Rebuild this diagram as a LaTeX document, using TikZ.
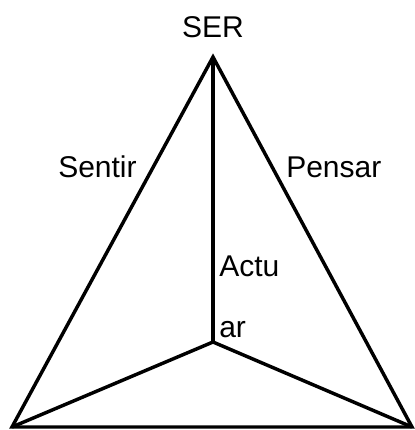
\documentclass[tikz,border=0pt]{standalone}
\usepackage{fontspec}
\setmainfont{Liberation Sans}
\usetikzlibrary{positioning}

\begin{document}
\begin{tikzpicture}[
    x=0.75pt, y=-0.75pt,
    edge/.style={draw=black, line width=2.6pt, line join=miter},
    word/.style={inner sep=0pt, font=\fontsize{22.5}{45.75}\selectfont, text=black}
]
\useasboundingbox (0,0) rectangle (415,430);

% Corners of the pyramid
\coordinate (ser) at (213,57);
\coordinate (left) at (12,427);
\coordinate (right) at (412,427);
\coordinate (centre) at (213,342);

% Edges
\draw[edge] (left) -- (ser) -- (right) -- cycle;
\draw[edge] (ser) -- (centre);
\draw[edge] (left) -- (centre) -- (right);

% Labels
\node[word, anchor=base] (lser) at (213,37) {SER};
\node[word, anchor=base west] (lsentir) at (58,177) {Sentir};
\node[word, anchor=base west] (lpensar) at (286,177) {Pensar};
\node[word, anchor=base west, align=left] (lactuar) at (219,337) {Actu\\ar};

\end{tikzpicture}
\end{document}
